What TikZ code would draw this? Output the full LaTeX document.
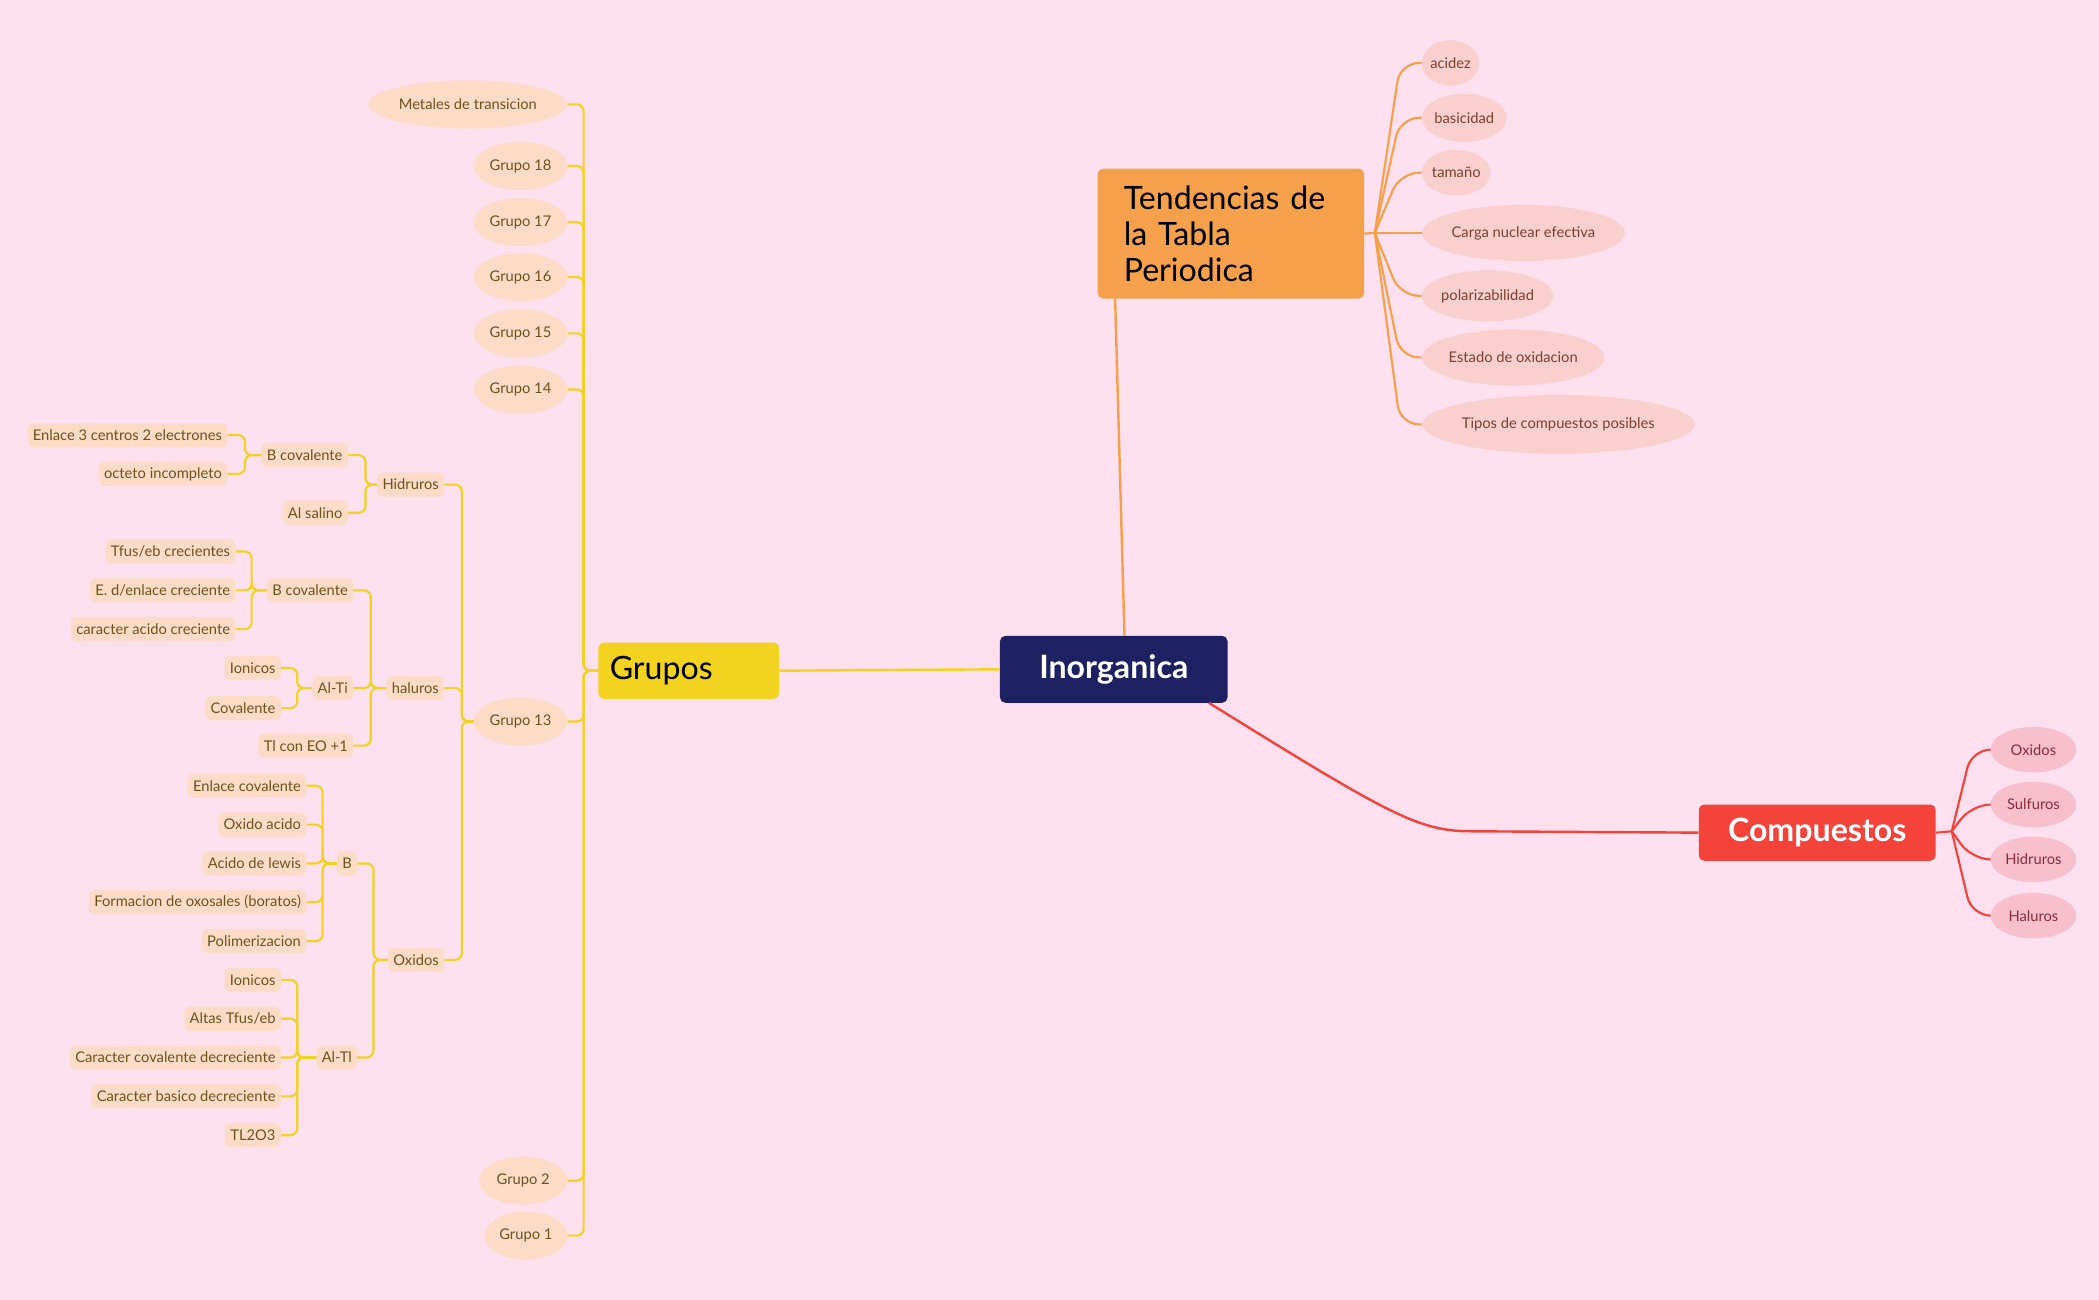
\documentclass[tikz,border=0pt]{standalone}
\usepackage{fontspec}
\setmainfont{Lato}
\usetikzlibrary{shapes.geometric}
\definecolor{bg}{HTML}{FEE0EF}
\definecolor{navy}{HTML}{1D2161}
\definecolor{gold}{HTML}{F2D31F}
\definecolor{orng}{HTML}{F5A04B}
\definecolor{redc}{HTML}{F4433B}
\definecolor{peach}{HTML}{FCDCC6}
\definecolor{salm}{HTML}{FAD0CF}
\definecolor{pinkc}{HTML}{F8BFCC}
\definecolor{olive}{HTML}{6B531C}
\definecolor{brn}{HTML}{7A3F2E}
\definecolor{wine}{HTML}{8A2B3C}
\tikzset{
 lf/.style={fill=peach,rounded corners=4pt,text=olive,font=\fontsize{11}{12}\selectfont,inner xsep=4pt,minimum height=18pt},
 el/.style={ellipse,fill=peach,text=olive,font=\fontsize{11}{12}\selectfont,inner sep=1pt},
 tel/.style={ellipse,fill=salm,text=brn,font=\fontsize{11}{12}\selectfont,inner xsep=0pt,inner ysep=1pt},
 cel/.style={ellipse,fill=pinkc,text=wine,font=\fontsize{11}{12}\selectfont,inner sep=1pt},
 yl/.style={draw=gold,line width=1.6pt,rounded corners=5pt},
 ol/.style={draw=orng,line width=1.6pt,rounded corners=14pt},
 rl/.style={draw=redc,line width=1.6pt,rounded corners=14pt},
}
\newcommand{\cn}[3]{\draw[yl] (#1.east) -- (#1.east -| #2) |- (#3.west);}
\begin{document}
\begin{tikzpicture}[x=1pt,y=-1pt]
\fill[bg] (0,0) rectangle (1568,971);
\useasboundingbox (0,0) rectangle (1568,971);
% main nodes
\node[fill=navy,rounded corners=4pt,minimum width=170pt,minimum height=50pt,text=white,font=\fontsize{24}{26}\selectfont\bfseries] (I) at (832,500) {Inorganica};
\node[fill=gold,rounded corners=4pt,minimum width=135pt,minimum height=42pt,text=black,font=\fontsize{24}{26}\selectfont,align=left,text width=118pt] (G) at (514.5,501) {Grupos};
\node[fill=orng,rounded corners=4pt,minimum width=199pt,minimum height=97pt,text=black,font=\fontsize{24}{27}\selectfont,align=left,text width=160pt] (T) at (919.5,174.5) {Tendencias de\\la Tabla\\Periodica};
\node[fill=redc,rounded corners=4pt,minimum width=177pt,minimum height=42pt,text=white,font=\fontsize{24}{26}\selectfont\bfseries] (C) at (1357.5,622) {Compuestos};
\draw[gold,line width=1.8pt] (I.west) -- (G.east);
\draw[orng,line width=1.8pt] (840,475) -- (833,223);
\draw[redc,line width=1.8pt] (903,525) .. controls (1040,610) and (1060,621) .. (1100,621) -- (C.west);
% Tendencias children
\coordinate (tf) at (1027,174);
\draw[orng,line width=1.6pt] (T.east) -- (tf);
\foreach \n/\t/\y/\h in {t1/acidez/47/34,t2/basicidad/88/36,t3/tamaño/129/34,t4/Carga nuclear efectiva/174/42,t5/polarizabilidad/221/38,t6/Estado de oxidacion/267/42,t7/Tipos de compuestos posibles/317/44}{
 \node[tel,minimum height=\h pt,anchor=west] (\n) at (1062,\y) {\t};
 \draw[ol] (tf) -- (1046,\y) -- (\n.west);
}
% Compuestos children
\coordinate (cf) at (1458,621);
\draw[redc,line width=1.6pt] (C.east) -- (cf);
\foreach \n/\t/\y in {c1/Oxidos/560,c2/Sulfuros/601,c3/Hidruros/642,c4/Haluros/684}{
 \node[cel,minimum height=34pt,minimum width=64pt] (\n) at (1519,\y) {\t};
 \draw[rl] (cf) -- (1473,\y) -- (\n.west);
}
% Grupos children
\coordinate (b0) at (436,0);
\foreach \n/\t/\y/\w in {g1/Metales de transicion/78/136,g2/Grupo 18/124/70,g3/Grupo 17/166/70,g4/Grupo 16/207/70,g5/Grupo 15/249/70,g6/Grupo 14/291/70,g13/Grupo 13/539/70,g22/Grupo 2/882/66,g21/Grupo 1/923/62}{
 \node[el,minimum width=\w pt,minimum height=36pt,anchor=east] (\n) at (424,\y) {\t};
 \cn{\n}{b0}{G}
}
% Grupo 13
\coordinate (b1) at (345,0);
\node[lf,anchor=east] (hid) at (332,362) {Hidruros};
\node[lf,anchor=east] (hal) at (332,514) {haluros};
\node[lf,anchor=east] (oxi) at (332,717) {Oxidos};
\foreach \n in {hid,hal,oxi}{\cn{\n}{b1}{g13}}
% Hidruros
\coordinate (b2) at (273,0);
\node[lf,anchor=east] (bc1) at (260,340) {B covalente};
\node[lf,anchor=east] (als) at (260,383) {Al salino};
\foreach \n in {bc1,als}{\cn{\n}{b2}{hid}}
\coordinate (b3) at (183,0);
\node[lf,anchor=east] (e3c) at (170,325) {Enlace 3 centros 2 electrones};
\node[lf,anchor=east] (oct) at (170,354) {octeto incompleto};
\foreach \n in {e3c,oct}{\cn{\n}{b3}{bc1}}
% haluros
\coordinate (b4) at (277,0);
\node[lf,anchor=east] (bc2) at (264,441) {B covalente};
\node[lf,anchor=east] (alti) at (264,514) {Al-Ti};
\node[lf,anchor=east] (tle) at (264,557) {Tl con EO +1};
\foreach \n in {bc2,alti,tle}{\cn{\n}{b4}{hal}}
\coordinate (b5) at (188,0);
\node[lf,anchor=east] (tf1) at (176,412) {Tfus/eb crecientes};
\node[lf,anchor=east] (ed) at (176,441) {E. d/enlace creciente};
\node[lf,anchor=east] (cac) at (176,470) {caracter acido creciente};
\foreach \n in {tf1,ed,cac}{\cn{\n}{b5}{bc2}}
\coordinate (b6) at (222,0);
\node[lf,anchor=east] (ion1) at (210,499) {Ionicos};
\node[lf,anchor=east] (cov) at (210,529) {Covalente};
\foreach \n in {ion1,cov}{\cn{\n}{b6}{alti}}
% Oxidos
\coordinate (b7) at (279,0);
\node[lf,anchor=east] (bb) at (267,645) {B};
\node[lf,anchor=east] (altl) at (267,790) {Al-Tl};
\foreach \n in {bb,altl}{\cn{\n}{b7}{oxi}}
\coordinate (b8) at (241,0);
\foreach \n/\t/\y in {o1/Enlace covalente/587,o2/Oxido acido/616,o3/Acido de lewis/645,o4/Formacion de oxosales (boratos)/674,o5/Polimerizacion/703}{
 \node[lf,anchor=east] (\n) at (229,\y) {\t};
 \cn{\n}{b8}{bb}
}
\coordinate (b9) at (222,0);
\foreach \n/\t/\y in {a1/Ionicos/732,a2/{Altas Tfus/eb}/761,a3/Caracter covalente decreciente/790,a4/Caracter basico decreciente/819,a5/TL2O3/848}{
 \node[lf,anchor=east] (\n) at (210,\y) {\t};
 \cn{\n}{b9}{altl}
}
\end{tikzpicture}
\end{document}
